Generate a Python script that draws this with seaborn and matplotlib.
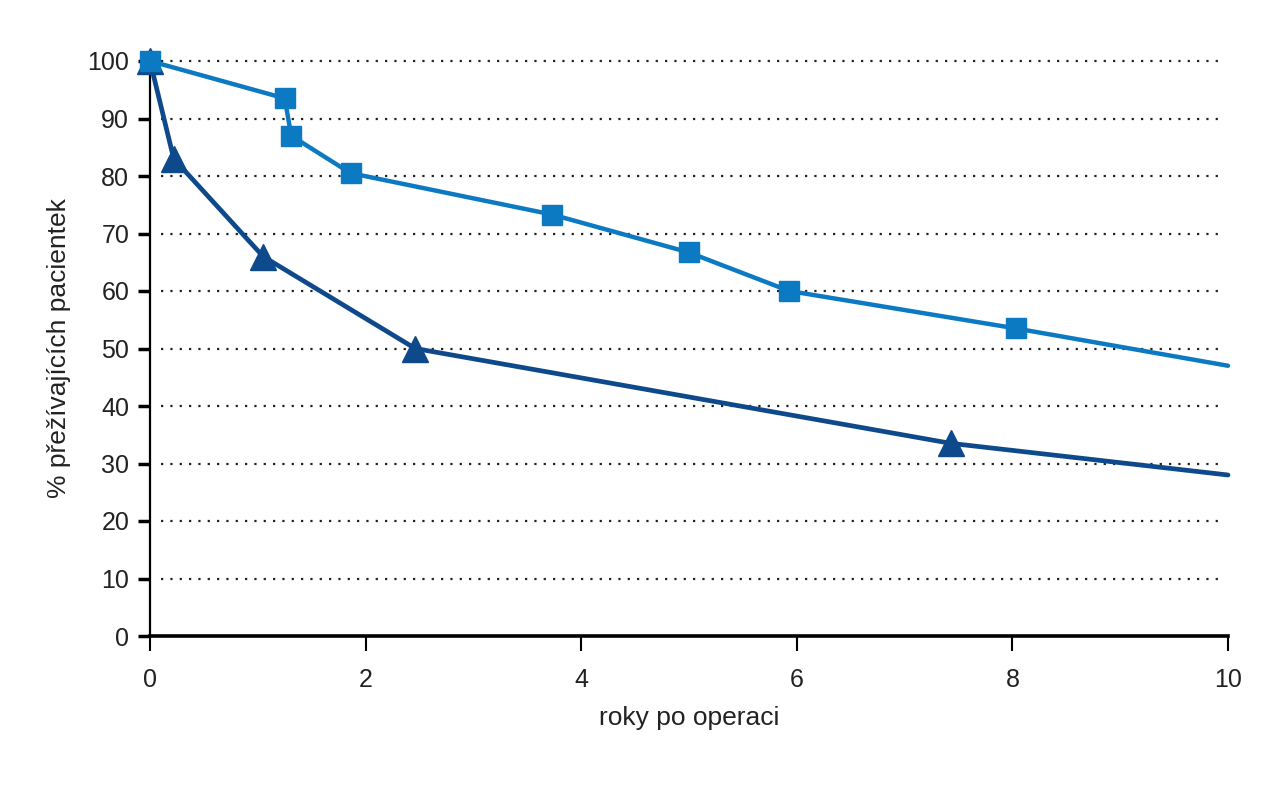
import matplotlib
matplotlib.use("Agg")
import matplotlib.pyplot as plt
from matplotlib import font_manager
import seaborn as sns
import pandas as pd

# Data
years_a = [0, 1.25, 1.31, 1.86, 3.73, 5.0, 5.93, 8.03, 10]
surv_a = [100, 93.5, 87, 80.5, 73.3, 66.7, 60, 53.5, 47]
years_b = [0, 0.22, 1.05, 2.46, 7.43, 10]
surv_b = [100, 83, 66, 50, 33.5, 28]
x_ticks = [0, 2, 4, 6, 8, 10]
y_ticks = [0, 10, 20, 30, 40, 50, 60, 70, 80, 90, 100]
x_label = "roky po operaci"
y_label = "% přežívajících pacientek"

sns.set_style("white")
names = {f.name for f in font_manager.fontManager.ttflist}
fam = "Liberation Sans Narrow" if "Liberation Sans Narrow" in names else "Liberation Sans"
plt.rcParams["font.family"] = [fam, "DejaVu Sans"]

light = "#0c79c3"
dark = "#0e4a8b"

fig = plt.figure(figsize=(12.71, 8.0), dpi=100)
ax = fig.add_axes([150 / 1271, 1 - 636 / 800, (1228 - 150) / 1271, (636 - 61) / 800])

for y in y_ticks[1:]:
    ax.plot([0.1, 9.93], [y, y], linestyle=(0, (1, 3.2)), color="#222222", lw=1.6, zorder=1)

df_a = pd.DataFrame({"x": years_a, "y": surv_a})
df_b = pd.DataFrame({"x": years_b, "y": surv_b})

sns.lineplot(data=df_b, x="x", y="y", ax=ax, color=dark, lw=3.4, zorder=3, sort=False)
sns.lineplot(data=df_a, x="x", y="y", ax=ax, color=light, lw=3.2, zorder=4, sort=False)
ax.plot(years_b[:-1], surv_b[:-1], ls="none", marker="^", ms=19, color=dark, zorder=5)
ax.plot(years_a[:-1], surv_a[:-1], ls="none", marker="s", ms=14.5, color=light, zorder=6)
for l in ax.lines:
    l.set_clip_on(False)

ax.set_xlim(0, 10)
ax.set_ylim(0, 100)
ax.set_xticks(x_ticks)
ax.set_yticks(y_ticks)
ax.set_xticklabels([str(v) for v in x_ticks])
ax.set_yticklabels([str(v) for v in y_ticks])
ax.tick_params(axis="x", bottom=True, direction="out", length=11, width=1.5, labelsize=18, pad=12, color="black")
ax.tick_params(axis="y", left=True, direction="out", length=9, width=2.5, labelsize=18, pad=6, color="black")
for s in ["top", "right"]:
    ax.spines[s].set_visible(False)
ax.spines["left"].set_linewidth(1.6)
ax.spines["bottom"].set_linewidth(2.6)
ax.spines["left"].set_color("black")
ax.spines["bottom"].set_color("black")
ax.set_xlabel(x_label, fontsize=19, labelpad=10, color="#222222")
ax.set_ylabel(y_label, fontsize=19, labelpad=12, color="#222222")
for t in ax.get_xticklabels() + ax.get_yticklabels():
    t.set_color("#222222")

fig.savefig("out.png", dpi=100)
